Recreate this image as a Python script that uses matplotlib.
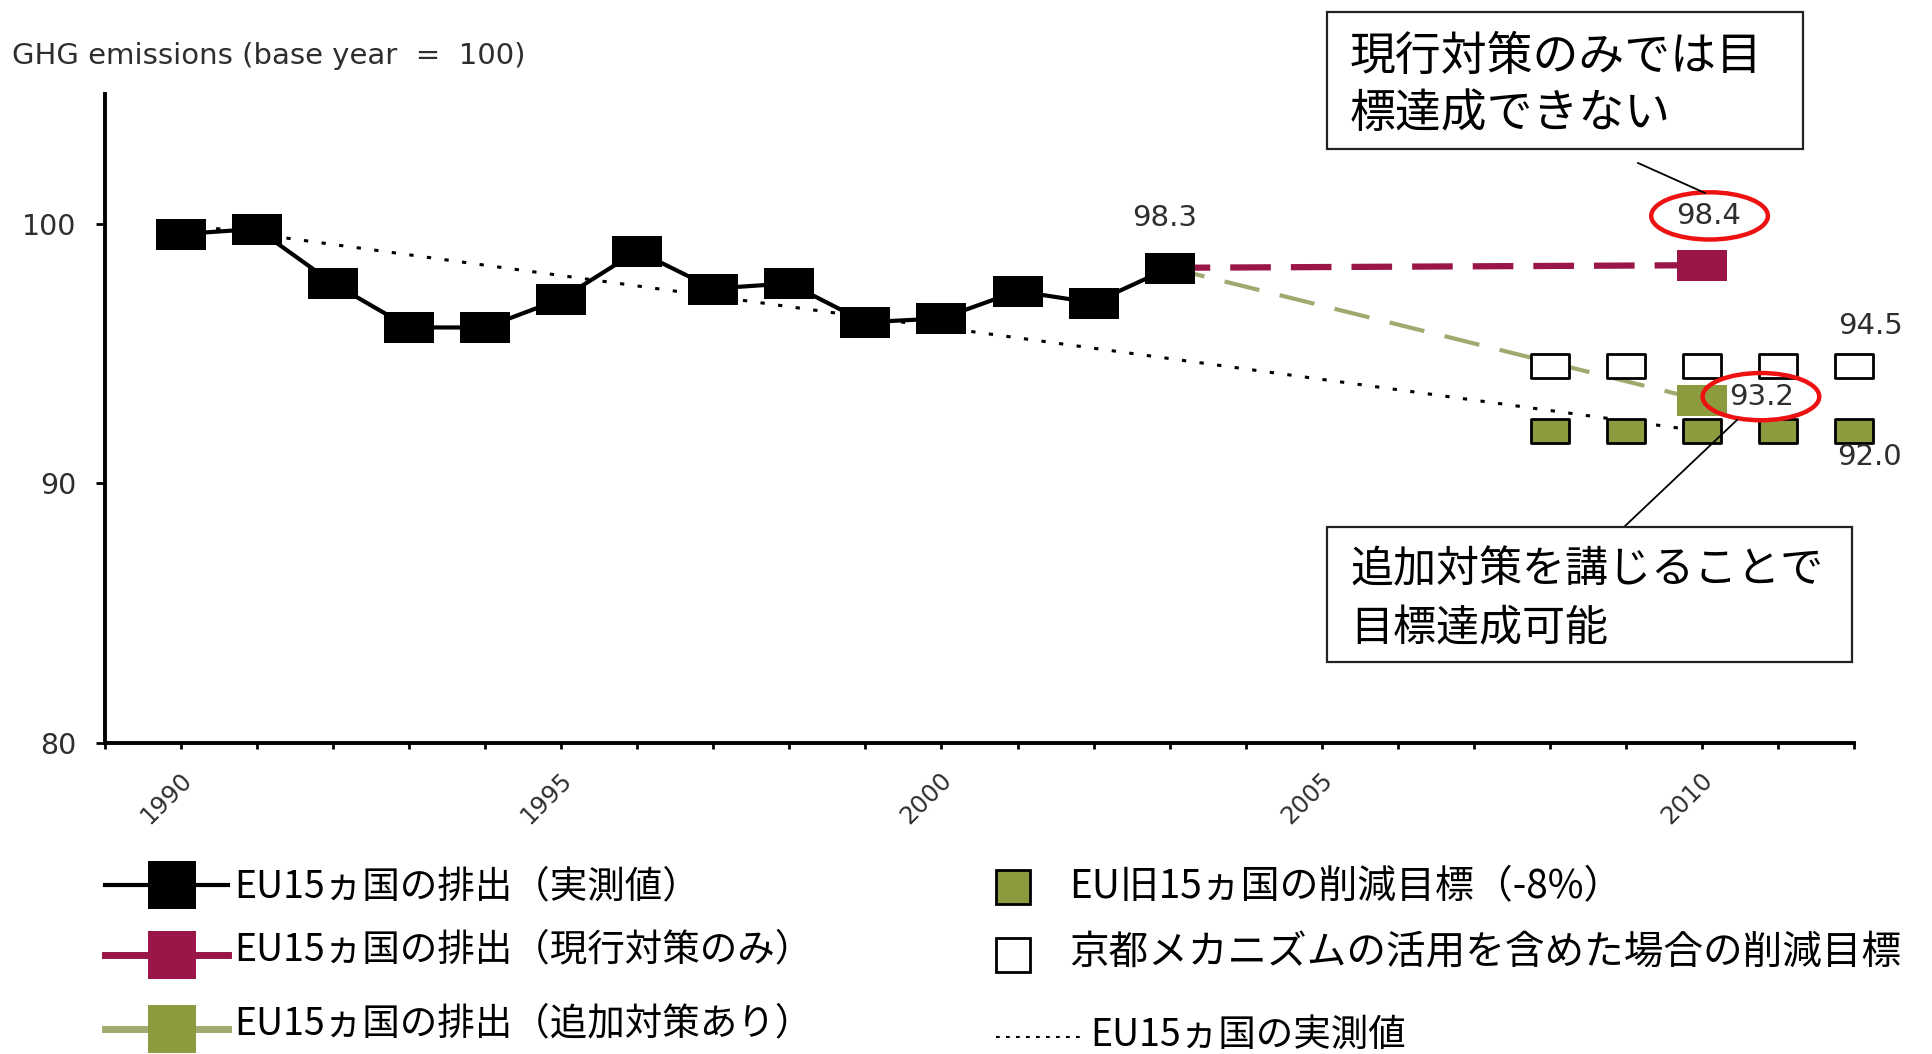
import matplotlib
matplotlib.use('Agg')
import matplotlib.pyplot as plt
import matplotlib.transforms as mtransforms
from matplotlib.patches import Ellipse, Rectangle
from matplotlib.lines import Line2D
from matplotlib.path import Path

plt.rcParams['font.family'] = ['DejaVu Sans']
JP = ['Noto Sans CJK JP', 'DejaVu Sans']

# ---------------- data ----------------
years_obs = [1990, 1991, 1992, 1993, 1994, 1995, 1996, 1997, 1998, 1999, 2000, 2001, 2002, 2003]
emissions_obs = [99.6, 99.8, 97.7, 96.0, 96.0, 97.1, 98.95, 97.5, 97.7, 96.2, 96.35, 97.4, 96.95, 98.3]

proj_years = [2003, 2010]
proj_current = [98.3, 98.4]        # existing measures only
proj_additional = [98.3, 93.2]     # with additional measures

target_years = [2008, 2009, 2010, 2011, 2012]
target_kyoto = [92.0, 92.0, 92.0, 92.0, 92.0]          # EU-15 -8%
target_mechanism = [94.5, 94.5, 94.5, 94.5, 94.5]      # incl. Kyoto mechanisms

path_years = [1990, 2010]
path_values = [100.0, 92.0]

xtick_years = [1990, 1995, 2000, 2005, 2010]
xtick_labels = ['1990', '1995', '2000', '2005', '2010']
ytick_values = [80, 90, 100]
ytick_labels = ['80', '90', '100']

label_obs = 'EU15ヵ国の排出（実測値）'
label_current = 'EU15ヵ国の排出（現行対策のみ）'
label_additional = 'EU15ヵ国の排出（追加対策あり）'
label_kyoto = 'EU旧15ヵ国の削減目標（-8%）'
label_mechanism = '京都メカニズムの活用を含めた場合の削減目標'
label_path = 'EU15ヵ国の実測値'
y_title = 'GHG emissions (base year  =  100)'
box1_lines = ['現行対策のみでは目', '標達成できない']
box2_lines = ['追加対策を講じることで', '目標達成可能']

# ---------------- style ----------------
CRIMSON = '#9A1648'
OLIVE = '#8C9B3E'
OLIVE_LINE = '#A2A970'
TXT = '#2e2e2e'

W, H = 1932, 1054
fig = plt.figure(figsize=(W / 100, H / 100), dpi=100)
fig.patch.set_facecolor('white')
ax = fig.add_axes([105 / W, 1 - 742.5 / H, (1854 - 105) / W, (742.5 - 94) / H])
ax.set_xlim(1989, 2012)
ax.set_ylim(80, 105)

def rect_path(r):
    return Path([(-1, -r), (1, -r), (1, r), (-1, r), (-1, -r)],
                [Path.MOVETO, Path.LINETO, Path.LINETO, Path.LINETO, Path.CLOSEPOLY])

big_rect = rect_path(0.62)
small_rect = rect_path(0.64)

# target path (dotted)
ax.plot(path_years, path_values, color='k', lw=2.2, ls=(0, (1.4, 4.4)), zorder=2,
        clip_on=False)

# projections
ax.plot(proj_years, proj_current, color=CRIMSON, lw=4.5, ls=(0, (6.5, 3.2)),
        marker=big_rect, markevery=[1], ms=36, mfc=CRIMSON, mec=CRIMSON, mew=0, zorder=3,
        clip_on=False)
ax.plot(proj_years, proj_additional, color=OLIVE_LINE, lw=3, ls=(0, (8.6, 5)),
        zorder=3, clip_on=False)

# targets
ax.plot(target_years, target_mechanism, ls='none', marker=small_rect, ms=28,
        mfc='white', mec='k', mew=2, zorder=4, clip_on=False)
ax.plot(target_years, target_kyoto, ls='none', marker=small_rect, ms=28,
        mfc=OLIVE, mec='k', mew=2, zorder=4, clip_on=False)
ax.plot(proj_years[1:], proj_additional[1:], ls='none', marker=big_rect, ms=36,
        mfc=OLIVE, mec=OLIVE, mew=0, zorder=4, clip_on=False)

# observed
ax.plot(years_obs, emissions_obs, color='k', lw=3, marker=big_rect, ms=36,
        mfc='k', mec='k', mew=0, zorder=5, solid_joinstyle='round', clip_on=False)

# axes styling
for s in ['top', 'right']:
    ax.spines[s].set_visible(False)
for s in ['left', 'bottom']:
    ax.spines[s].set_linewidth(2.8)
    ax.spines[s].set_color('k')

ax.set_yticks(ytick_values, labels=ytick_labels)
ax.tick_params(axis='y', length=6.5, width=2, pad=14, labelsize=20.5, labelcolor=TXT)
ax.set_xticks(xtick_years, labels=xtick_labels)
ax.set_xticks(list(range(1989, 2013)), minor=True)
ax.tick_params(axis='x', which='both', length=4.5, width=2, direction='out')
ax.tick_params(axis='x', which='major', pad=14, labelsize=17.5, labelcolor=TXT,
               labelrotation=45)
shift = mtransforms.ScaledTranslation(-15 / 100, 0, fig.dpi_scale_trans)
for lbl in ax.get_xticklabels():
    lbl.set_ha('center')
    lbl.set_transform(lbl.get_transform() + shift)

fig.text(12 / W, 1 - 56 / H, y_title, fontsize=21, color=TXT, ha='left', va='center')

# value labels
def value_label(x, y, txt, dx, dy):
    ax.annotate(txt, xy=(x, y), xytext=(dx, dy), textcoords='offset points',
                ha='center', va='center', fontsize=21, color=TXT, zorder=6)

value_label(years_obs[-1], emissions_obs[-1], f'{emissions_obs[-1]:.1f}', -3.5, 36)
value_label(proj_years[1], proj_current[1], f'{proj_current[1]:.1f}', 5, 35.5)
value_label(proj_years[1], proj_additional[1], f'{proj_additional[1]:.1f}', 43, 2.4)
value_label(target_years[-1], target_mechanism[-1], f'{target_mechanism[-1]:.1f}', 12, 29)
value_label(target_years[-1], target_kyoto[-1], f'{target_kyoto[-1]:.1f}', 11, -18.5)

# red ellipses around highlighted values
def ring(x, y, dx, dy):
    tr = (mtransforms.Affine2D().scale(fig.dpi / 72).translate(dx * fig.dpi / 72, dy * fig.dpi / 72)
          + mtransforms.ScaledTranslation(x, y, ax.transData))
    e = Ellipse((0, 0), width=84, height=34, transform=tr, fill=False,
                edgecolor='#EE1111', lw=3.2, zorder=7, clip_on=False)
    ax.add_artist(e)

ring(proj_years[1], proj_current[1], 5.5, 35.5)
ring(proj_years[1], proj_additional[1], 42.5, 2.5)

# callout boxes
def fig_rect(x0, y0, x1, y1):
    fig.add_artist(Rectangle((x0 / W, 1 - y1 / H), (x1 - x0) / W, (y1 - y0) / H,
                             transform=fig.transFigure, facecolor='white',
                             edgecolor='#222222', lw=1.6, zorder=10))

def fig_line(x0, y0, x1, y1, **kw):
    fig.add_artist(Line2D([x0 / W, x1 / W], [1 - y0 / H, 1 - y1 / H],
                          transform=fig.transFigure, **kw))

fig_rect(1327, 12, 1803, 149)
fig.text(1350 / W, 1 - 57 / H, box1_lines[0], family=JP, fontsize=33, color='k',
         ha='left', va='center', zorder=11)
fig.text(1350 / W, 1 - 114 / H, box1_lines[1], family=JP, fontsize=33, color='k',
         ha='left', va='center', zorder=11)
fig_line(1638, 163, 1705, 193, color='k', lw=1.3)

fig_rect(1327, 527, 1852, 662)
fig.text(1350 / W, 1 - 570 / H, box2_lines[0], family=JP, fontsize=31, color='k',
         ha='left', va='center', zorder=11)
fig.text(1350 / W, 1 - 629 / H, box2_lines[1], family=JP, fontsize=31, color='k',
         ha='left', va='center', zorder=11)
fig_line(1624, 527, 1737, 420, color='k', lw=1.3)

# ---------------- legend (manual) ----------------
def leg_line_marker(y, color, lcolor, lw):
    fig_line(105, y, 228, y, color=lcolor, lw=lw)
    fig.add_artist(Line2D([172 / W], [1 - y / H], transform=fig.transFigure,
                          marker='s', ms=34, mfc=color, mec=color, mew=0, ls='none'))

leg_line_marker(885, 'k', 'k', 3)
fig.text(234 / W, 1 - 887 / H, label_obs, family=JP, fontsize=27, color='k', ha='left', va='center')
leg_line_marker(955, CRIMSON, CRIMSON, 5)
fig.text(234 / W, 1 - 950 / H, label_current, family=JP, fontsize=27, color='k', ha='left', va='center')
leg_line_marker(1029, OLIVE, OLIVE_LINE, 5)
fig.text(234 / W, 1 - 1024 / H, label_additional, family=JP, fontsize=27, color='k', ha='left', va='center')

fig.add_artist(Line2D([1013 / W], [1 - 887 / H], transform=fig.transFigure, marker='s',
                      ms=24.5, mfc=OLIVE, mec='k', mew=2, ls='none'))
fig.text(1069 / W, 1 - 887 / H, label_kyoto, family=JP, fontsize=28, color='k', ha='left', va='center')
fig.add_artist(Line2D([1013 / W], [1 - 955 / H], transform=fig.transFigure, marker='s',
                      ms=24.5, mfc='white', mec='k', mew=2, ls='none'))
fig.text(1069 / W, 1 - 953 / H, label_mechanism, family=JP, fontsize=28.5, color='k', ha='left', va='center')
fig_line(996, 1037, 1082, 1037, color='k', lw=1.5, ls=(0, (1.8, 3)))
fig.text(1090 / W, 1 - 1035 / H, label_path, family=JP, fontsize=27, color='k', ha='left', va='center')

fig.savefig('out.png', dpi=100, facecolor='white')
